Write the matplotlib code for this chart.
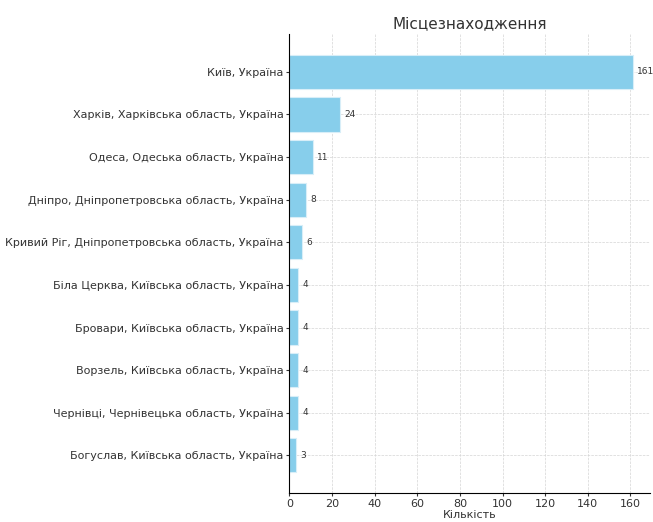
import matplotlib
matplotlib.use("Agg")
import matplotlib.pyplot as plt

# locations and counts, top to bottom
locations = [
    "Київ, Україна",
    "Харків, Харківська область, Україна",
    "Одеса, Одеська область, Україна",
    "Дніпро, Дніпропетровська область, Україна",
    "Кривий Ріг, Дніпропетровська область, Україна",
    "Біла Церква, Київська область, Україна",
    "Бровари, Київська область, Україна",
    "Ворзель, Київська область, Україна",
    "Чернівці, Чернівецька область, Україна",
    "Богуслав, Київська область, Україна",
]
counts = [161, 24, 11, 8, 6, 4, 4, 4, 4, 3]

fig, ax = plt.subplots(figsize=(6.53, 5.22), dpi=100)

bars = ax.barh(locations, counts, color="skyblue", edgecolor="#d8eef8", linewidth=0.8)
ax.invert_yaxis()

for b, v in zip(bars, counts):
    ax.text(b.get_width() + 2, b.get_y() + b.get_height() / 2, str(v),
            va="center", ha="left", fontsize=6.5, color="#333333")

ax.set_title("Місцезнаходження", fontsize=11, color="#333333", pad=4)
ax.set_xlabel("Кількість", fontsize=8, color="#333333", labelpad=1)
ax.grid(True, linestyle="--", linewidth=0.5, color="#d5d5d5")
ax.set_axisbelow(True)
ax.spines["top"].set_visible(False)
ax.spines["right"].set_visible(False)
ax.tick_params(labelsize=8, colors="#333333", length=2.5, pad=1.5)

fig.subplots_adjust(left=0.443, right=0.995, top=0.935, bottom=0.055)
fig.savefig("out.png", dpi=100)
